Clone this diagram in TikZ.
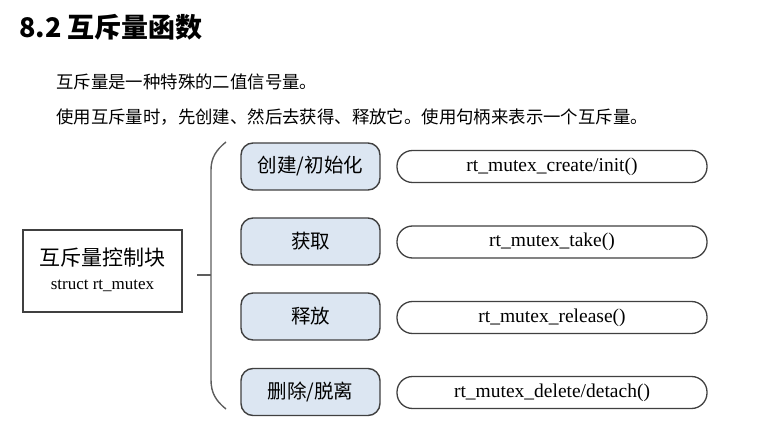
\documentclass[tikz,border=0pt]{standalone}
\usepackage{fontspec}
\setmainfont{Liberation Serif}
\newfontfamily\cjk{Noto Sans CJK SC}
\definecolor{boxfill}{HTML}{DCE6F2}
\definecolor{edge}{HTML}{404040}
\begin{document}
\begin{tikzpicture}[x=1pt,y=-1pt,
  optbox/.style={draw=edge,line width=1.4pt,fill=boxfill,rounded corners=12pt,
    minimum width=139pt,minimum height=47pt,inner sep=0pt,
    font=\cjk\fontsize{19.5}{22}\selectfont},
  fnbox/.style={draw=edge,line width=1.3pt,fill=white,rounded corners=15.5pt,
    minimum width=310pt,minimum height=32pt,inner sep=0pt,
    font=\fontsize{19.5}{22}\selectfont},
  ctlbox/.style={draw=edge,line width=1.3pt,fill=white,
    minimum width=159pt,minimum height=82pt,inner sep=0pt},
  brace/.style={draw=edge!85,line width=1.4pt},
  bodytext/.style={anchor=west,inner sep=0pt,font=\cjk\fontsize{17.4}{20}\selectfont}]
\useasboundingbox (0,0) rectangle (767,435);
% heading and text
\node[anchor=west,inner sep=0pt,font=\cjk\bfseries\fontsize{27}{30}\selectfont] (title) at (19,27) {8.2 互斥量函数};
\node[bodytext] (line1) at (56,82) {互斥量是一种特殊的二值信号量。};
\node[bodytext] (line2) at (56,117) {使用互斥量时，先创建、然后去获得、释放它。使用句柄来表示一个互斥量。};
% control block
\node[ctlbox] (ctl) at (102.5,271) {};
\node[inner sep=0pt,font=\cjk\fontsize{21}{26}\selectfont] (ctlname) at (102.5,258) {互斥量控制块};
\node[inner sep=0pt,font=\fontsize{17}{20}\selectfont] (ctlstruct) at (102.5,286) {struct rt\_mutex};
% brace
\coordinate (bt) at (226,142);
\coordinate (bb) at (226,409);
\coordinate (bs) at (197,275);
\coordinate (bm) at (211,275);
\draw[brace] (bt) .. controls (216,150) and (211,158) .. (211,170) -- (211,380) .. controls (211,393) and (216,401) .. (bb);
\draw[brace] (bs) -- (bm);
% operation boxes
\node[optbox] (o1) at (310.5,166.5) {创建/初始化};
\node[optbox] (o2) at (310.5,241.5) {获取};
\node[optbox] (o3) at (310.5,316.5) {释放};
\node[optbox] (o4) at (310.5,392) {删除/脱离};
% function boxes
\node[fnbox] (f1) at (552,166.5) {rt\_mutex\_create/init()};
\node[fnbox] (f2) at (552,242) {rt\_mutex\_take()};
\node[fnbox] (f3) at (552,317.5) {rt\_mutex\_release()};
\node[fnbox] (f4) at (552,392.5) {rt\_mutex\_delete/detach()};
\end{tikzpicture}
\end{document}
